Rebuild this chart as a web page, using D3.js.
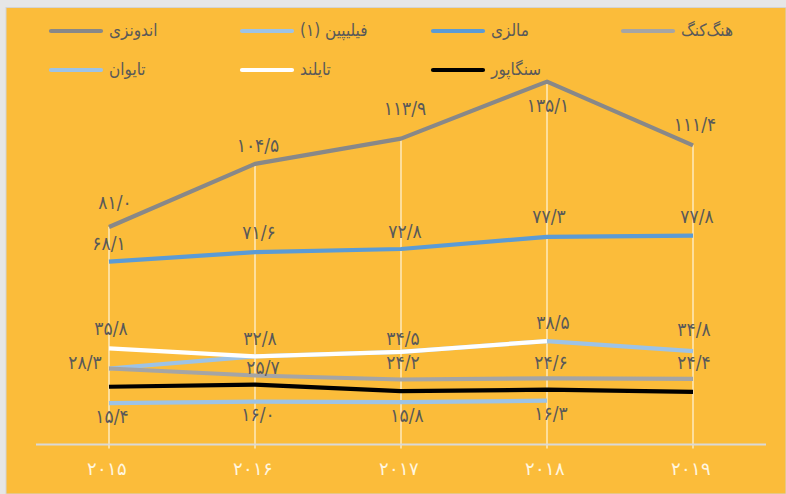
<!DOCTYPE html>
<html>
<head>
<meta charset="utf-8">
<script src="https://cdn.jsdelivr.net/npm/d3@7"></script>
<style>
  html, body { margin: 0; padding: 0; background: #e6e6e6; }
  svg { display: block; font-family: 'DejaVu Sans Condensed', 'DejaVu Sans', sans-serif; font-stretch: condensed; }
</style>
</head>
<body>
<svg id="chart" width="786" height="494"></svg>
<script>
// ---- data ----
const years = ['2015', '2016', '2017', '2018', '2019'];
const indonesia   = [81.0, 104.5, 113.9, 135.1, 111.4];
const philippines = [28.3, 32.8, 34.5, 38.5, 34.8];
const malaysia    = [68.1, 71.6, 72.8, 77.3, 77.8];
const hongKong    = [28.3, 25.7, 24.2, 24.6, 24.4];
const taiwan      = [15.4, 16.0, 15.8, 16.3, null];
const thailand    = [35.8, 32.8, 34.5, 38.5, null];
const singapore   = [21.5, 22.3, 19.9, 20.4, 19.6];
const seriesNames = ['اندونزی', 'فیلیپین (۱)', 'مالزی', 'هنگ‌کنگ', 'تایوان', 'تایلند', 'سنگاپور'];

// ---- styling / placement (not data) ----
const seriesList = [
  { name: seriesNames[0], values: indonesia,   color: '#888888', labels: [[6,-23],[3,-17],[4,-29],[1,25],[2,-20]] },
  { name: seriesNames[1], values: philippines, color: '#9dc3e6', labels: [null,null,null,null,[1,-21]] },
  { name: seriesNames[2], values: malaysia,    color: '#5b9bd5', labels: [[0,-17],[4,-19],[4,-16],[2,-19],[4,-18]] },
  { name: seriesNames[3], values: hongKong,    color: '#a5a5a5', labels: [[-24,-5],[8,-7],[2,-16],[4,-15],[1,-15]] },
  { name: seriesNames[4], values: taiwan,      color: '#9dc3e6', labels: [[3,14],[3,14],[6,14],[4,14]] },
  { name: seriesNames[5], values: thailand,    color: '#ffffff', labels: [[2,-19],[5,-17],[2,-12],[6,-18]] },
  { name: seriesNames[6], values: singapore,   color: '#000000', labels: [] }
];
const drawOrder = [0, 1, 2, 3, 4, 5, 6];
const legendLayout = [[0,0],[1,0],[2,0],[3,0],[0,1],[1,1],[2,1]];

const faDigits = '۰۱۲۳۴۵۶۷۸۹';
const toFa = s => String(s).replace(/[0-9]/g, d => faDigits[+d]);
const fmt = v => toFa(v.toFixed(1)).replace('.', '/');

const svg = d3.select('#chart');
const W = 786, H = 494;

// background panel
svg.append('rect').attr('x', 0).attr('y', 0).attr('width', W).attr('height', H).attr('fill', '#e6e6e6');
svg.append('rect').attr('x', 6).attr('y', 7.5).attr('width', W - 6).attr('height', H - 7.5)
  .attr('fill', '#fbbc3a').attr('stroke', '#d3d3d3').attr('stroke-width', 1);

const x = d3.scalePoint().domain(years).range([36, 766]).padding(0.5);
const y = d3.scaleLinear().domain([0, 140]).range([444.5, 68.5]);

// drop lines from highest point to the axis
const g = svg.append('g');
g.selectAll('line.drop').data(years).join('line')
  .attr('class', 'drop')
  .attr('x1', d => x(d)).attr('x2', d => x(d))
  .attr('y1', (d, i) => y(d3.max(seriesList, s => s.values[i] == null ? 0 : s.values[i])))
  .attr('y2', y(0) + 4)
  .attr('stroke', 'rgba(255,250,235,0.55)').attr('stroke-width', 2);

// x axis
const xAxis = d3.axisBottom(x).tickSize(0).tickFormat(d => toFa(d));
const ax = svg.append('g').attr('transform', `translate(0,${y(0)})`).call(xAxis);
ax.select('.domain').attr('stroke', '#d9d9d9').attr('stroke-width', 2.2).attr('d', 'M36,0H766');
ax.selectAll('text').attr('fill', '#fff6e0').attr('font-size', 18).attr('dy', 0)
  .attr('x', -3).attr('y', 26).attr('dominant-baseline', 'middle').attr('letter-spacing', 6).attr('direction', 'ltr');

// lines
const line = d3.line()
  .defined(d => d.v != null)
  .x(d => x(d.year)).y(d => y(d.v));
drawOrder.forEach(k => {
  const s = seriesList[k];
  const pts = s.values.map((v, i) => ({ year: years[i], v }));
  svg.append('path').datum(pts).attr('d', line)
    .attr('fill', 'none').attr('stroke', s.color).attr('stroke-width', 4.2)
    .attr('stroke-linejoin', 'round').attr('stroke-linecap', 'butt');
});

// data labels
seriesList.forEach(s => {
  s.values.forEach((v, i) => {
    const off = s.labels[i];
    if (v == null || !off) return;
    svg.append('text')
      .attr('x', x(years[i]) + off[0]).attr('y', y(v) + off[1])
      .attr('text-anchor', 'middle').attr('dominant-baseline', 'middle')
      .attr('direction', 'ltr').attr('letter-spacing', 1)
      .attr('fill', '#595959').attr('font-size', 19)
      .text(fmt(v));
  });
});

// legend
const colX = [49, 240, 431, 621];
const rowY = [31, 70];
seriesList.forEach((s, k) => {
  const [c, r] = legendLayout[k];
  const lg = svg.append('g').attr('transform', `translate(${colX[c]},${rowY[r]})`);
  lg.append('line').attr('x1', 2).attr('x2', 52).attr('y1', 0).attr('y2', 0)
    .attr('stroke', s.color).attr('stroke-width', 4.2).attr('stroke-linecap', 'round');
  lg.append('text').attr('x', 60).attr('y', 0).attr('dominant-baseline', 'middle')
    .attr('text-anchor', 'start').attr('fill', '#595959').attr('font-size', 17)
    .text(s.name);
});
</script>
</body>
</html>
